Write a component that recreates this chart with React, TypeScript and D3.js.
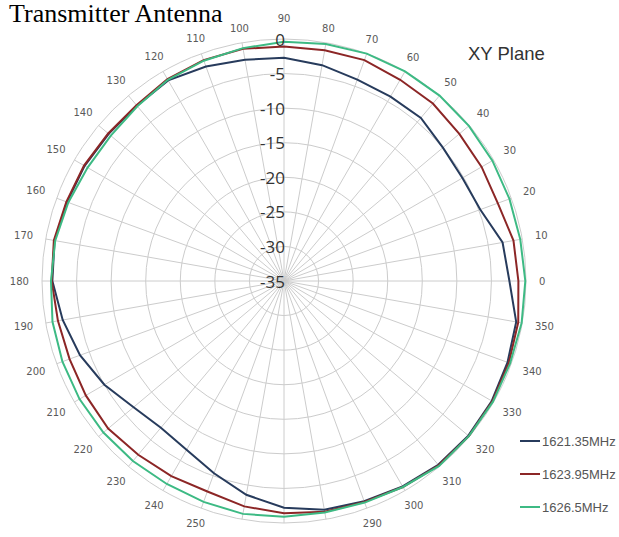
import { useEffect, useRef } from 'react'
import * as d3 from 'd3'

// azimuth angles in degrees (0 = right, counter-clockwise)
const angles = [0, 10, 20, 30, 40, 50, 60, 70, 80, 90, 100, 110, 120, 130, 140, 150, 160, 170,
  180, 190, 200, 210, 220, 230, 240, 250, 260, 270, 280, 290, 300, 310, 320, 330, 340, 350]

// gain in dB
const gain1621 = [-2.4, -2.9, -4.8, -5.2, -5.0, -4.2, -4.2, -4.0, -3.3, -2.7, -2.5, -2.0, -1.5, -1.9,
  -1.9, -1.7, -1.6, -1.3, -1.5, -2.5, -3.6, -5.0, -6.6, -7.3, -6.8, -5.4, -3.6, -2.2, -1.4, -1.1,
  -0.7, -0.3, -0.2, -0.3, -0.6, -0.9]
const gain1623 = [-1.1, -1.3, -2.1, -2.0, -1.9, -1.5, -1.4, -1.0, -1.1, -1.1, -0.9, -1.0, -1.3, -1.8,
  -1.8, -1.6, -1.5, -1.2, -1.4, -1.8, -2.0, -1.9, -1.8, -2.2, -2.4, -2.6, -1.9, -1.4, -1.1, -1.0,
  -0.6, -0.2, -0.1, -0.2, -0.4, -0.6]
const gain1626 = [-0.1, -0.3, -0.3, -0.2, -0.1, 0, 0, 0, -0.2, -0.4, -0.8, -1.1, -1.4, -2.0, -2.3,
  -2.2, -1.8, -1.4, -1.3, -1.0, -0.9, -0.85, -0.9, -1.0, -1.1, -1.0, -0.8, -0.9, -1.0, -0.9, -0.6,
  -0.1, -0.1, -0.1, -0.2, -0.1]

const seriesNames = ['1621.35MHz', '1623.95MHz', '1626.5MHz']
const seriesColors = ['#273b5c', '#8c2626', '#3dba84']
const levelTicks = [0, -5, -10, -15, -20, -25, -30, -35]

export default function App() {
  const svgRef = useRef<SVGSVGElement>(null)

  useEffect(() => {
    if (!svgRef.current) return
    document.body.style.margin = '0'

    const width = 619
    const height = 537
    const cx = 284
    const cy = 281
    const outer = 242

    const svg = d3.select(svgRef.current)
    svg.selectAll('*').remove()
    svg.attr('width', width).attr('height', height)

    const r = d3.scaleLinear().domain([-35, 0]).range([0, outer])
    const toRad = (deg: number) => (deg * Math.PI) / 180

    svg.append('text')
      .attr('x', 9)
      .attr('y', 22)
      .style('font-family', '"Liberation Serif", "Times New Roman", serif')
      .style('font-size', '26px')
      .style('fill', '#000')
      .text('Transmitter Antenna')

    const g = svg.append('g').attr('transform', `translate(${cx},${cy})`)

    // concentric grid circles
    g.selectAll('.ring')
      .data(levelTicks.slice(0, -1))
      .enter().append('circle')
      .attr('r', d => r(d))
      .attr('fill', 'none')
      .attr('stroke', '#cccccc')
      .attr('stroke-width', 1)

    // spokes
    g.selectAll('.spoke')
      .data(angles)
      .enter().append('line')
      .attr('x1', 0)
      .attr('y1', 0)
      .attr('x2', d => outer * Math.cos(toRad(d)))
      .attr('y2', d => -outer * Math.sin(toRad(d)))
      .attr('stroke', '#cccccc')
      .attr('stroke-width', 1)

    // angle labels, pushed out by half their width on the sides
    const labelPos = (d: number) => {
      const w = String(d).length * 3.2
      const rr = outer + 13 + w * Math.abs(Math.cos(toRad(d))) + (d === 90 ? 8 : 0)
      return [rr * Math.cos(toRad(d)), -rr * Math.sin(toRad(d))]
    }
    g.selectAll('.angle')
      .data(angles.filter(d => cy + labelPos(d)[1] < height - 4))
      .enter().append('text')
      .attr('x', d => labelPos(d)[0])
      .attr('y', d => labelPos(d)[1])
      .attr('text-anchor', 'middle')
      .attr('dominant-baseline', 'central')
      .style('font-family', '"DejaVu Sans", sans-serif')
      .style('font-size', '10px')
      .style('fill', '#5a5a5a')
      .text(d => d)

    // series
    const series = [gain1621, gain1623, gain1626]
    const line = d3.lineRadial<number>()
      .angle((_, i) => toRad(90 - angles[i]))
      .radius(d => r(d))
      .curve(d3.curveLinearClosed)

    series.forEach((vals, i) => {
      g.append('path')
        .datum(vals)
        .attr('d', line)
        .attr('fill', 'none')
        .attr('stroke', seriesColors[i])
        .attr('stroke-width', 2)
    })

    // dB level labels
    g.selectAll('.level')
      .data(levelTicks)
      .enter().append('text')
      .attr('x', 1)
      .attr('y', d => -r(d))
      .attr('text-anchor', 'end')
      .attr('dominant-baseline', 'central')
      .style('font-family', '"Open Sans", "Liberation Sans", sans-serif')
      .style('font-size', '17px')
      .style('fill', '#333')
      .text(d => d)

    svg.append('text')
      .attr('x', 468)
      .attr('y', 60)
      .style('font-family', '"Liberation Sans", sans-serif')
      .style('font-size', '18.5px')
      .style('fill', '#333')
      .text('XY Plane')

    // legend
    const legendY = d3.scalePoint<string>().domain(seriesNames).range([441, 507])
    const legend = svg.selectAll('.legend')
      .data(seriesNames)
      .enter().append('g')
      .attr('transform', d => `translate(520,${legendY(d)})`)
    legend.append('line')
      .attr('x1', 0)
      .attr('x2', 20)
      .attr('stroke', (_, i) => seriesColors[i])
      .attr('stroke-width', 2)
    legend.append('text')
      .attr('x', 22)
      .attr('dominant-baseline', 'central')
      .style('font-family', '"Liberation Sans", sans-serif')
      .style('font-size', '13px')
      .style('fill', '#555')
      .text(d => d)
  }, [])

  return <svg ref={svgRef} style={{ display: 'block' }} />
}
